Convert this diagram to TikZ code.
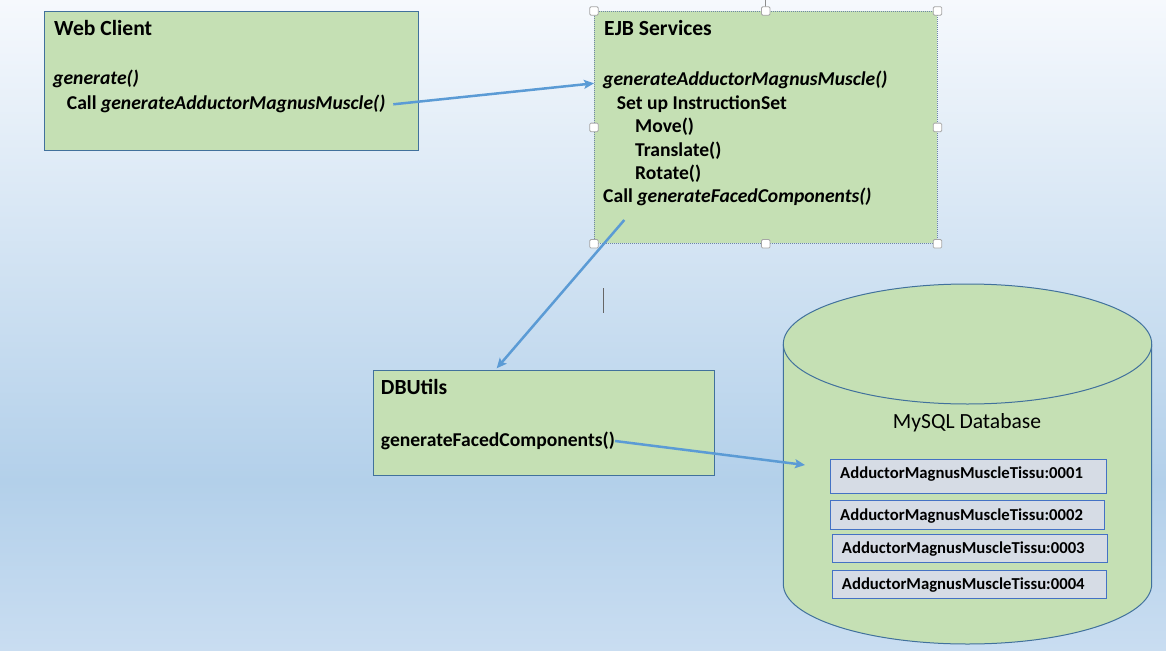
\documentclass[tikz,border=0pt]{standalone}
\usepackage{fontspec}
\setmainfont{Carlito}
\usetikzlibrary{arrows.meta}

\definecolor{boxgreen}{HTML}{C5E0B4}
\definecolor{boxline}{HTML}{41719C}
\definecolor{arrowblue}{HTML}{5B9BD5}
\definecolor{recfill}{HTML}{D6DCE5}
\definecolor{recline}{HTML}{4472C4}
\definecolor{bgtop}{HTML}{F6F9FD}
\definecolor{bgmid}{HTML}{B3D0EA}
\definecolor{bgbot}{HTML}{C9DDF1}
\definecolor{selline}{HTML}{6E86A6}

% page background: pale at the top, deeper blue low down, lighter at the foot
\pgfdeclareverticalshading{pagebg}{100bp}{color(0bp)=(bgbot); color(25bp)=(bgbot);
  color(38bp)=(bgmid); color(75bp)=(bgtop); color(100bp)=(bgtop)}

\tikzset{
  greenbox/.style={draw=boxline, fill=boxgreen, line width=1pt, anchor=north west, inner sep=0},
  record/.style={draw=recline, fill=recfill, line width=1pt, anchor=north west, inner sep=0},
  txt/.style={anchor=base west, inner sep=0, font=\fontsize{19.6}{23}\selectfont\bfseries},
  titletxt/.style={anchor=base west, inner sep=0, font=\fontsize{21.6}{25}\selectfont\bfseries},
  rectxt/.style={anchor=base west, inner sep=0, font=\fontsize{16.7}{19}\selectfont\bfseries},
  flow/.style={draw=arrowblue, line width=2.5pt, -{Stealth[length=10pt,width=9pt,inset=2pt]}},
  handle/.style={draw=black!35, fill=white, line width=0.8pt, minimum size=8.5pt, inner sep=0, rounded corners=1.2pt}
}

\begin{document}
\begin{tikzpicture}[x=1pt, y=-1pt]
  \useasboundingbox (0,0) rectangle (1166,650);
  \shade[shading=pagebg] (0,0) rectangle (1166,650);

  % ---- Web Client ----
  \node[greenbox, minimum width=373.7pt, minimum height=139pt] (web) at (44,11) {};
  \node[titletxt] (webtitle) at (54,35.7) {Web Client};
  \node[txt] (webgen) at (53,85) {\itshape generate()};
  \node[txt] (webcall) at (66.7,110) {Call \textit{generateAdductorMagnusMuscle()}};

  % ---- EJB Services (selected shape) ----
  \node[greenbox, draw=selline, line width=0.8pt, dash pattern=on 1pt off 1pt,
        minimum width=342.7pt, minimum height=232pt] (ejb) at (594,11) {};
  \node[titletxt] (ejbtitle) at (604,36) {EJB Services};
  \node[txt] (ejbgen) at (603,86) {\itshape generateAdductorMagnusMuscle()};
  \node[txt] (ejbset) at (616.7,109.5) {Set up InstructionSet};
  \node[txt] (ejbmove) at (635,132.8) {Move()};
  \node[txt] (ejbtrans) at (635,156.1) {Translate()};
  \node[txt] (ejbrot) at (635,179.4) {Rotate()};
  \node[txt] (ejbcall) at (603,202.7) {Call \textit{generateFacedComponents()}};

  % selection handles
  \draw[black!45, line width=0.8pt] (ejb.north) -- ++(0,-11);
  \foreach \a in {north west,north,north east,west,east,south west,south,south east}
    \node[handle] at (ejb.\a) {};

  % ---- DBUtils ----
  \node[greenbox, minimum width=341.3pt, minimum height=105pt] (dbu) at (372.7,370) {};
  \node[titletxt] (dbutitle) at (380.7,394.3) {DBUtils};
  \node[txt] (dbugen) at (380.7,446.7) {generateFacedComponents()};

  % ---- MySQL Database cylinder ----
  \fill[boxgreen] (783.3,344) -- (783.3,584)
     arc[start angle=180, end angle=0, x radius=184.2, y radius=60] -- (1151.7,344) -- cycle;
  \draw[boxline, line width=1pt] (783.3,344) -- (783.3,584)
     arc[start angle=180, end angle=0, x radius=184.2, y radius=60] -- (1151.7,344);
  \draw[boxline, line width=1pt, fill=boxgreen] (967.5,344) ellipse [x radius=184.2, y radius=60];
  \node[anchor=base, inner sep=0, font=\fontsize{21.6}{25}\selectfont] (dbname) at (967,428.3) {MySQL Database};

  \node[record, minimum width=275.4pt, minimum height=34pt] (r1) at (830.3,459.3) {};
  \node[record, minimum width=274pt, minimum height=29pt] (r2) at (830.3,500.3) {};
  \node[record, minimum width=274.4pt, minimum height=28pt] (r3) at (832.3,534.3) {};
  \node[record, minimum width=273.4pt, minimum height=28pt] (r4) at (832.3,570.3) {};
  \node[rectxt] (t1) at (840,478.3) {AdductorMagnusMuscleTissu:0001};
  \node[rectxt] (t2) at (840,520.7) {AdductorMagnusMuscleTissu:0002};
  \node[rectxt] (t3) at (841.7,553.3) {AdductorMagnusMuscleTissu:0003};
  \node[rectxt] (t4) at (841.7,589.3) {AdductorMagnusMuscleTissu:0004};

  % ---- connectors ----
  \coordinate (a1s) at (393.3,104.3);
  \coordinate (a1e) at (594,83.3);
  \coordinate (a2s) at (624.3,220);
  \coordinate (a2e) at (496.7,368.3);
  \coordinate (a3s) at (615,441);
  \coordinate (a3e) at (805,465);
  \draw[flow] (a1s) -- (a1e);
  \draw[flow] (a2s) -- (a2e);
  \draw[flow] (a3s) -- (a3e);

  % text cursor
  \coordinate (cur1) at (603.3,288.3);
  \coordinate (cur2) at (603.3,313.3);
  \draw[black!60, line width=0.8pt] (cur1) -- (cur2);
\end{tikzpicture}
\end{document}
